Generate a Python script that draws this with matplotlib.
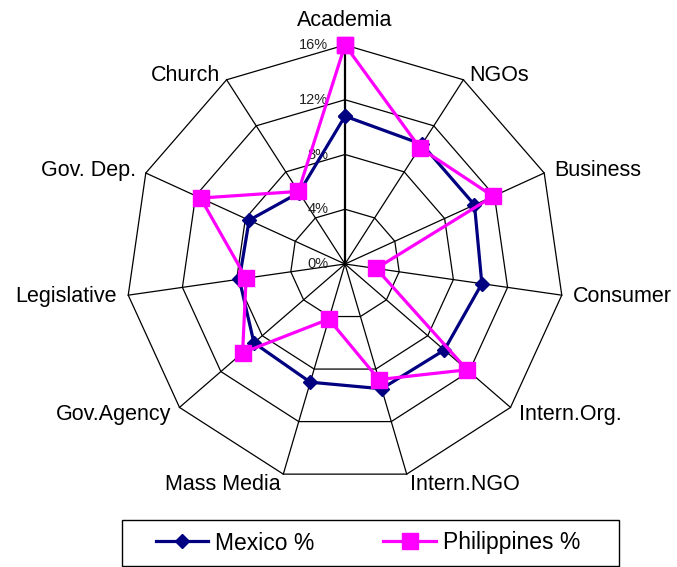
import numpy as np
import matplotlib.pyplot as plt
from matplotlib.patches import Rectangle

plt.rcParams["font.family"] = ["Liberation Sans", "DejaVu Sans"]

categories = ["Academia", "NGOs", "Business", "Consumer", "Intern.Org.",
              "Intern.NGO", "Mass Media", "Gov.Agency", "Legislative",
              "Gov. Dep.", "Church"]
mexico = [10.8, 10.4, 10.4, 10.1, 9.6, 9.5, 9.0, 8.8, 7.8, 7.7, 6.2]
philippines = [16.0, 10.1, 11.9, 2.3, 11.8, 8.8, 4.2, 9.9, 7.3, 11.6, 6.3]
ring_values = [0, 4, 8, 12, 16]
ring_labels = ["0%", "4%", "8%", "12%", "16%"]

W, H = 677, 567
CX, CY = 345, 264          # centre of the web, pixels
SCALE = 219 / 16           # pixels per percent

theta = np.arange(len(categories)) * 2 * np.pi / len(categories)


def to_xy(vals):
    vals = np.asarray(vals, dtype=float)
    return vals * np.sin(theta), vals * np.cos(theta)


fig = plt.figure(figsize=(W / 100, H / 100), dpi=100)
ax = fig.add_axes([0, 0, 1, 1])
ax.set_xlim(-CX / SCALE, (W - CX) / SCALE)
ax.set_ylim(-(H - CY) / SCALE, CY / SCALE)
ax.axis("off")

# web grid
rmax = ring_values[-1]
for r in ring_values[1:]:
    gx, gy = to_xy([r] * len(categories))
    ax.plot(np.append(gx, gx[0]), np.append(gy, gy[0]), color="black", lw=0.9, zorder=1)
ox, oy = to_xy([rmax] * len(categories))
for i in range(len(categories)):
    ax.plot([0, ox[i]], [0, oy[i]], color="black",
            lw=1.6 if i == 0 else 0.9, zorder=1)

# value labels along the first spoke
for v, lab in zip(ring_values, ring_labels):
    ax.annotate(lab, (0, v), xytext=(-12, 0), textcoords="offset points",
                ha="right", va="center", fontsize=10.5, color="#222222")

# category labels
for i, cat in enumerate(categories):
    s, c = np.sin(theta[i]), np.cos(theta[i])
    if s > 0.1:
        ha = "left"
    elif s < -0.1:
        ha = "right"
    else:
        ha = "center"
    if c > 0.95:
        va, off = "bottom", (0, 10)
    elif c > 0:
        va, off = "center", (8 * s, 4 * c)
    else:
        va, off = "center", (8 * s, 7.5 * c)
    ax.annotate(cat, (ox[i], oy[i]), xytext=off,
                textcoords="offset points", ha=ha, va=va, fontsize=15.5)

# series
mx, my = to_xy(mexico)
px, py = to_xy(philippines)
ax.plot(np.append(mx, mx[0]), np.append(my, my[0]), color="#000080", lw=2.3,
        marker="D", ms=7, mec="#000080", mfc="#000080", label="Mexico %", zorder=3)
ax.plot(np.append(px, px[0]), np.append(py, py[0]), color="#FF00FF", lw=2.3,
        marker="s", ms=11, mec="#FF00FF", mfc="#FF00FF", label="Philippines %", zorder=4)

# legend box
fig.patches.append(Rectangle((122 / W, 1 - 566 / H), (619 - 122) / W, 46 / H,
                             transform=fig.transFigure, fill=False,
                             edgecolor="black", lw=1.0))
fig.legend(loc="center", bbox_to_anchor=(368 / W, 1 - 543 / H), ncol=2,
           frameon=False, fontsize=16.5, handlelength=2.3, handletextpad=0.3,
           columnspacing=3.0, numpoints=1)

fig.savefig("out.png", dpi=100)
